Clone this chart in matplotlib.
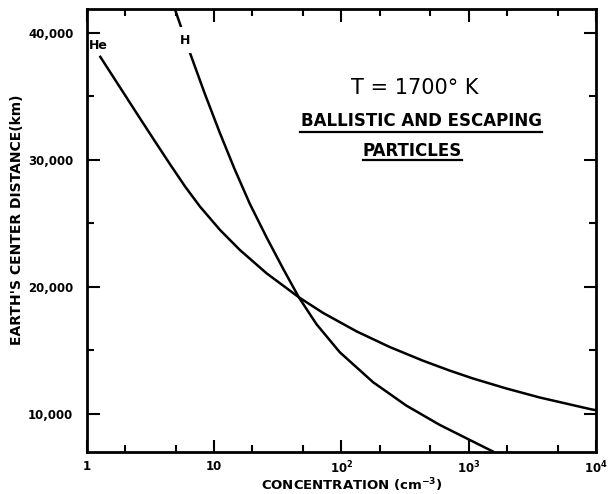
import matplotlib.pyplot as plt
from matplotlib.ticker import FixedLocator, FixedFormatter, NullFormatter

# values (concentration in cm^-3, distance in km)
he_conc = [1.283, 1.841, 2.489, 3.366, 4.54, 5.956, 7.77, 11.14, 15.99, 25.9, 46.4,
           72.0, 131.6, 240, 438, 710, 1081, 1976, 3605, 8892, 10000]
he_dist = [38125, 35685, 33647, 31624, 29641, 27894, 26335, 24502, 22912, 21078, 19190,
           17954, 16506, 15270, 14192, 13413, 12791, 12004, 11296, 10391, 10288]

h_conc = [4.926, 6.52, 8.50, 11.14, 14.61, 19.16, 25.9, 34.97, 46.4,
          63.9, 97.3, 177.6, 324, 592, 959, 1552]
h_dist = [41918, 38376, 35197, 32128, 29232, 26540, 23911, 21432, 19190,
          17065, 14861, 12500, 10658, 9139, 8085, 7038]

x_ticks = [1, 10, 100, 1000, 10000]
x_labels = ['1', '10', '10$^2$', '10$^3$', '10$^4$']
y_ticks = [10000, 20000, 30000, 40000]
y_labels = ['10,000', '20,000', '30,000', '40,000']

plt.rcParams['font.family'] = 'DejaVu Sans'
plt.rcParams['font.weight'] = 'bold'
plt.rcParams['mathtext.default'] = 'bf'

fig = plt.figure(figsize=(6.08, 4.94), dpi=100)
ax = fig.add_axes([0.1423, 0.085, 0.838, 0.897])

ax.plot(he_conc, he_dist, color='black', lw=1.8)
ax.plot(h_conc, h_dist, color='black', lw=1.8)

ax.set_xscale('log')
ax.set_xlim(1, 10000)
ax.set_ylim(7000, 41900)

ax.xaxis.set_major_locator(FixedLocator(x_ticks))
ax.xaxis.set_major_formatter(FixedFormatter(x_labels))
ax.xaxis.set_minor_locator(FixedLocator([m * 10 ** d for d in range(4) for m in (2, 5)]))
ax.xaxis.set_minor_formatter(NullFormatter())
ax.yaxis.set_major_locator(FixedLocator(y_ticks))
ax.yaxis.set_major_formatter(FixedFormatter(y_labels))
ax.yaxis.set_minor_locator(FixedLocator([15000, 25000, 35000]))

ax.tick_params(which='both', direction='in', top=True, right=True, width=1.5, labelsize=8.5)
ax.tick_params(which='major', length=9)
ax.tick_params(which='minor', length=5)
ax.tick_params(axis='x', pad=5.5)
ax.tick_params(axis='y', pad=9.5)
for s in ax.spines.values():
    s.set_linewidth(2)

# curve labels
ax.text(1.23, 39050, 'He', fontsize=9, fontweight='bold', ha='center', va='center')
ax.text(5.98, 39440, 'H', fontsize=9, fontweight='bold', ha='center', va='center',
        bbox=dict(facecolor='white', edgecolor='none', pad=4.5))

ax.text(0.645, 0.822, 'T = 1700° K', transform=ax.transAxes, fontsize=15,
        fontweight='normal', ha='center', va='center')
ax.text(0.657, 0.747, 'BALLISTIC AND ESCAPING', transform=ax.transAxes, fontsize=12,
        ha='center', va='center')
ax.text(0.639, 0.679, 'PARTICLES', transform=ax.transAxes, fontsize=12,
        ha='center', va='center')
# underlines under the two heading lines
ax.plot([0.419, 0.894], [0.722, 0.722], transform=ax.transAxes, color='black', lw=1.6)
ax.plot([0.543, 0.737], [0.659, 0.659], transform=ax.transAxes, color='black', lw=1.6)

ax.set_xlabel('CONCENTRATION (cm$^{-3}$)', fontsize=9.5, fontweight='bold')
ax.xaxis.set_label_coords(0.521, -0.056)
ax.set_ylabel("EARTH'S CENTER DISTANCE(km)", fontsize=10, fontweight='bold')
ax.yaxis.set_label_coords(-0.123, 0.524)

fig.savefig('out.png', dpi=100)
